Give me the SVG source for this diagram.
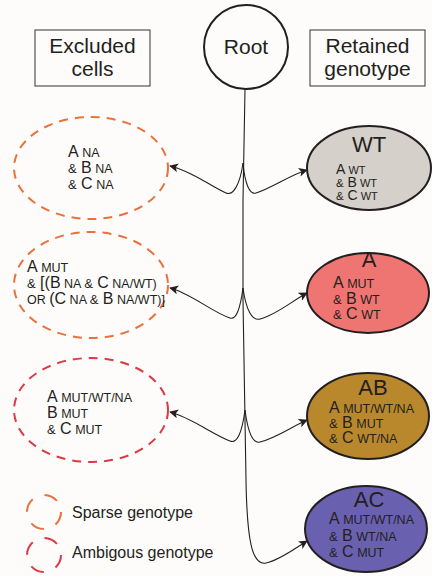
<svg xmlns="http://www.w3.org/2000/svg" width="432" height="576" viewBox="0 0 432 576">
<style>
text{font-family:"Liberation Sans",Arial,sans-serif;fill:#231f20}
.hdr{font-size:21px;text-anchor:middle}
.c{font-size:16px}
.s{font-size:12.5px}
.amp{font-size:13px}
.wc{font-size:14px}
.ws{font-size:11px}
.wa{font-size:11.5px}
.ttl{font-size:22px;text-anchor:middle}
.sparse{fill:none;stroke:#e8713c;stroke-width:2;stroke-dasharray:9 7}
.ambig{fill:none;stroke:#da3a45;stroke-width:2;stroke-dasharray:9 7}
.node{stroke:#231f20;stroke-width:2}
.edge{fill:none;stroke:#231f20;stroke-width:1.1}
</style>
<defs>
<marker id="ah" viewBox="0 0 10 10" refX="9" refY="5" markerWidth="9" markerHeight="9" markerUnits="userSpaceOnUse" orient="auto">
<path d="M0,0 L10,5 L0,10 L2.5,5 Z" fill="#231f20"/>
</marker>
</defs>
<rect width="432" height="576" fill="#fdfcfa"/>

<g id="header-excluded">
<rect x="35" y="30" width="115" height="56" fill="none" stroke="#333" stroke-width="1"/>
<text class="hdr" x="92.5" y="53">Excluded</text>
<text class="hdr" x="92.5" y="76">cells</text>
</g>
<g id="root">
<circle cx="246" cy="47" r="42" fill="none" stroke="#231f20" stroke-width="2"/>
<text class="hdr" x="246" y="54">Root</text>
</g>
<g id="header-retained">
<rect x="310" y="30" width="115" height="56" fill="none" stroke="#333" stroke-width="1"/>
<text class="hdr" x="367.5" y="53">Retained</text>
<text class="hdr" x="367.5" y="76">genotype</text>
</g>

<g id="connectors">
<path class="edge" d="M245,89 L243,200 L243,300 L245,420 L246,480 C247,540 252,566 266,563 C280,560 294,549 307,541" marker-end="url(#ah)"/>
<path class="edge" d="M243,163 C240,185 233,196 226,193 C210,186 192,171 170,166" marker-end="url(#ah)"/>
<path class="edge" d="M243,163 C245,185 250,195 256,193 C272,188 290,175 307,170" marker-end="url(#ah)"/>
<path class="edge" d="M243,288 C240,310 236,320 230,318 C212,312 190,293 170,288" marker-end="url(#ah)"/>
<path class="edge" d="M243,288 C246,310 252,321 260,319 C276,315 292,301 307,293" marker-end="url(#ah)"/>
<path class="edge" d="M245,410 C242,433 237,444 230,441 C212,434 190,417 170,412" marker-end="url(#ah)"/>
<path class="edge" d="M245,410 C248,433 253,444 260,442 C276,438 293,426 307,420" marker-end="url(#ah)"/>
</g>

<g id="excluded-1">
<ellipse class="sparse" cx="91" cy="168" rx="77" ry="51"/>
<text x="68" y="157"><tspan class="c">A</tspan><tspan class="s"> NA</tspan></text>
<text x="68" y="173"><tspan class="amp">&amp;</tspan><tspan class="c"> B</tspan><tspan class="s"> NA</tspan></text>
<text x="68" y="189"><tspan class="amp">&amp;</tspan><tspan class="c"> C</tspan><tspan class="s"> NA</tspan></text>
</g>
<g id="excluded-2">
<ellipse class="sparse" cx="91" cy="285" rx="77" ry="53"/>
<text x="27" y="272"><tspan class="c">A</tspan><tspan class="s"> MUT</tspan></text>
<text x="27" y="288"><tspan class="amp">&amp;</tspan><tspan class="c"> [(B</tspan><tspan class="s"> NA </tspan><tspan class="amp">&amp;</tspan><tspan class="c"> C</tspan><tspan class="s"> NA/WT)</tspan></text>
<text x="27" y="304"><tspan class="s">OR </tspan><tspan class="c">(C</tspan><tspan class="s"> NA </tspan><tspan class="amp">&amp;</tspan><tspan class="c"> B</tspan><tspan class="s"> NA/WT)]</tspan></text>
</g>
<g id="excluded-3">
<ellipse class="ambig" cx="91" cy="410" rx="77" ry="52"/>
<text x="47" y="402"><tspan class="c">A</tspan><tspan class="s"> MUT/WT/NA</tspan></text>
<text x="47" y="418"><tspan class="c">B</tspan><tspan class="s"> MUT</tspan></text>
<text x="47" y="434"><tspan class="amp">&amp;</tspan><tspan class="c"> C</tspan><tspan class="s"> MUT</tspan></text>
</g>

<g id="node-WT">
<ellipse class="node" cx="369" cy="168" rx="62" ry="42" fill="#d5d0ca"/>
<text class="ttl" x="369" y="152">WT</text>
<text x="336" y="174"><tspan class="wc">A</tspan><tspan class="ws"> WT</tspan></text>
<text x="336" y="187"><tspan class="wa">&amp;</tspan><tspan class="wc"> B</tspan><tspan class="ws"> WT</tspan></text>
<text x="336" y="200"><tspan class="wa">&amp;</tspan><tspan class="wc"> C</tspan><tspan class="ws"> WT</tspan></text>
</g>
<g id="node-A">
<ellipse class="node" cx="368" cy="293" rx="61" ry="40" fill="#ef7572"/>
<text class="ttl" x="369" y="267">A</text>
<text x="333" y="288"><tspan class="c">A</tspan><tspan class="s"> MUT</tspan></text>
<text x="333" y="304"><tspan class="amp">&amp;</tspan><tspan class="c"> B</tspan><tspan class="s"> WT</tspan></text>
<text x="333" y="319"><tspan class="amp">&amp;</tspan><tspan class="c"> C</tspan><tspan class="s"> WT</tspan></text>
</g>
<g id="node-AB">
<ellipse class="node" cx="368" cy="416" rx="61" ry="43" fill="#b9882c"/>
<text class="ttl" x="373" y="395">AB</text>
<text x="329" y="413"><tspan class="c">A</tspan><tspan class="s"> MUT/WT/NA</tspan></text>
<text x="329" y="428"><tspan class="amp">&amp;</tspan><tspan class="c"> B</tspan><tspan class="s"> MUT</tspan></text>
<text x="329" y="443"><tspan class="amp">&amp;</tspan><tspan class="c"> C</tspan><tspan class="s"> WT/NA</tspan></text>
</g>
<g id="node-AC">
<ellipse class="node" cx="366" cy="529" rx="61" ry="43" fill="#6a60b0"/>
<text class="ttl" x="369" y="507">AC</text>
<text x="329" y="524"><tspan class="c">A</tspan><tspan class="s"> MUT/WT/NA</tspan></text>
<text x="329" y="541"><tspan class="amp">&amp;</tspan><tspan class="c"> B</tspan><tspan class="s"> WT/NA</tspan></text>
<text x="329" y="557"><tspan class="amp">&amp;</tspan><tspan class="c"> C</tspan><tspan class="s"> MUT</tspan></text>
</g>

<g id="legend">
<circle cx="44" cy="512" r="17" fill="none" stroke="#e8713c" stroke-width="2" stroke-dasharray="14 12.7"/>
<text x="72" y="518" style="font-size:16px">Sparse genotype</text>
<circle cx="44" cy="555" r="17" fill="none" stroke="#da3a45" stroke-width="2" stroke-dasharray="14 12.7"/>
<text x="72" y="558" style="font-size:16px">Ambigous genotype</text>
</g>
</svg>
